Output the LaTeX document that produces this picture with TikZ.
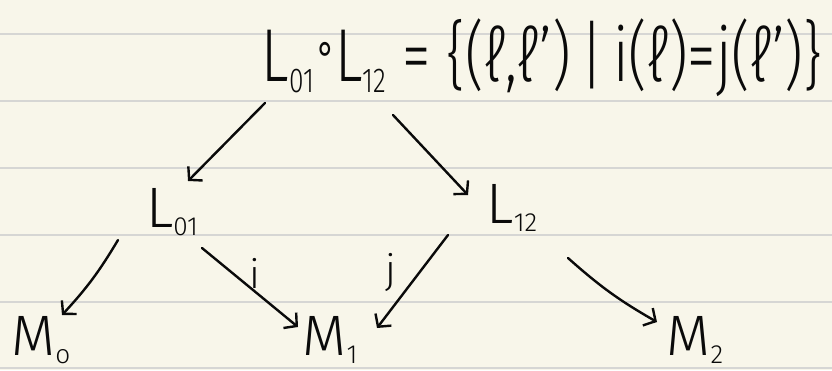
\documentclass[tikz,border=0pt]{standalone}
\usepackage{graphicx}
\usepackage{fontspec}
\setmainfont{Fira Sans}[UprightFont=* Light]
\newfontfamily\symfont{DejaVu Sans}
\usetikzlibrary{arrows.meta}
\definecolor{paper}{RGB}{248,246,234}
\definecolor{ruling}{RGB}{214,214,212}
\definecolor{ink}{RGB}{10,10,10}
\newcommand\lowsub[1]{\raisebox{-0.14em}{\scalebox{0.46}{#1}}}
\tikzset{
  obj/.style={inner sep=0pt, text=ink, font=\fontsize{57}{62}\selectfont},
  lbl/.style={inner sep=0pt, text=ink, font=\fontsize{40}{46}\selectfont},
  arr/.style={draw=ink, line width=2.4pt, line cap=round, line join=round,
    -{Straight Barb[length=9pt,width=20pt,line width=2.4pt]}},
  rule/.style={draw=ruling, line width=1.4pt}
}
\begin{document}
\begin{tikzpicture}[x=1pt,y=-1pt]
\fill[paper] (0,0) rectangle (832,370);
\useasboundingbox (0,0) rectangle (832,370);
\foreach \yy in {34,101,168,235,302,368} \draw[rule] (0,\yy) -- (832,\yy);

\node[obj] (top) at (542,58) {\resizebox*{560pt}{78pt}{L\lowsub{01}{\symfont\raisebox{0.25em}{\scalebox{0.6}{∘}}}L\lowsub{12} = \{(ℓ,ℓ')\,|\,i(ℓ)=j(ℓ')\}}};
\node[obj] (L01) at (172,212) {L\lowsub{01}};
\node[obj] (L12) at (512,208) {L\lowsub{12}};
\node[obj] (M0) at (41,340) {M\lowsub{o}};
\node[obj] (M1) at (330,340) {M\lowsub{1}};
\node[obj] (M2) at (695,340) {M\lowsub{2}};

\draw[arr] ([shift={(-277,45)}]top.center) -- ([shift={(16,-31)}]L01.center);
\draw[arr] ([shift={(-149,57)}]top.center) -- ([shift={(-44,-13)}]L12.center);
\draw[arr] ([shift={(-54,28)}]L01.center) to[bend left=6] ([shift={(21,-25)}]M0.center);
\draw[arr] ([shift={(30,36)}]L01.center) -- ([shift={(-32,-13)}]M1.center)
  node[lbl, pos=0.5, shift={(5,-14)}] {i};
\draw[arr] ([shift={(-64,27)}]L12.center) -- ([shift={(47,-12)}]M1.center)
  node[lbl, pos=0.5, shift={(-22,-9)}] {j};
\draw[arr] ([shift={(56,50)}]L12.center) to[bend right=6] ([shift={(-38,-18)}]M2.center);
\end{tikzpicture}
\end{document}
